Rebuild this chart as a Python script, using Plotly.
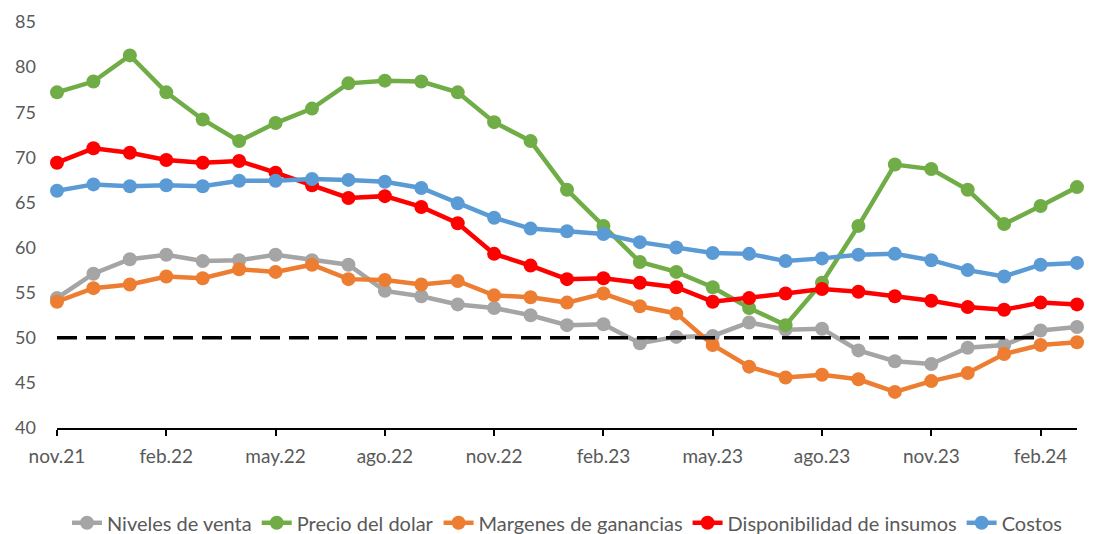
import plotly.graph_objects as go

meses = [
    "nov.21", "dic.21", "ene.22", "feb.22", "mar.22", "abr.22", "may.22", "jun.22",
    "jul.22", "ago.22", "sep.22", "oct.22", "nov.22", "dic.22", "ene.23", "feb.23",
    "mar.23", "abr.23", "may.23", "jun.23", "jul.23", "ago.23", "sep.23", "oct.23",
    "nov.23", "dic.23", "ene.24", "feb.24", "mar.24",
]

niveles_venta = [54.4, 57.1, 58.7, 59.2, 58.5, 58.6, 59.2, 58.6, 58.1, 55.2, 54.6, 53.7,
                 53.3, 52.5, 51.4, 51.5, 49.4, 50.1, 50.2, 51.7, 50.9, 51.0, 48.6, 47.4,
                 47.1, 48.9, 49.2, 50.8, 51.2]
precio_dolar = [77.2, 78.4, 81.3, 77.2, 74.2, 71.8, 73.8, 75.4, 78.2, 78.5, 78.4, 77.2,
                73.9, 71.8, 66.4, 62.4, 58.4, 57.3, 55.6, 53.3, 51.4, 56.1, 62.4, 69.2,
                68.7, 66.4, 62.6, 64.6, 66.7]
margenes = [54.0, 55.5, 55.9, 56.8, 56.6, 57.6, 57.3, 58.1, 56.5, 56.4, 55.9, 56.3,
            54.7, 54.5, 53.9, 54.9, 53.5, 52.7, 49.2, 46.8, 45.6, 45.9, 45.4, 44.0,
            45.2, 46.1, 48.2, 49.2, 49.5]
disponibilidad = [69.4, 71.0, 70.5, 69.7, 69.4, 69.6, 68.3, 66.9, 65.5, 65.7, 64.5, 62.7,
                  59.3, 58.0, 56.5, 56.6, 56.1, 55.6, 54.0, 54.4, 54.9, 55.4, 55.1, 54.6,
                  54.1, 53.4, 53.1, 53.9, 53.7]
costos = [66.3, 67.0, 66.8, 66.9, 66.8, 67.4, 67.4, 67.6, 67.5, 67.3, 66.6, 64.9,
          63.3, 62.1, 61.8, 61.5, 60.6, 60.0, 59.4, 59.3, 58.5, 58.8, 59.2, 59.3,
          58.6, 57.5, 56.8, 58.1, 58.3]
umbral = [50] * 28

series = [
    ("Niveles de venta", niveles_venta, "#A5A5A5"),
    ("Precio del dolar", precio_dolar, "#70AD47"),
    ("Margenes de ganancias", margenes, "#ED7D31"),
    ("Disponibilidad de insumos", disponibilidad, "#FF0000"),
    ("Costos", costos, "#5B9BD5"),
]

fig = go.Figure()

for nombre, valores, color in series:
    fig.add_trace(go.Scatter(
        x=meses, y=valores, name=nombre, mode="lines+markers",
        line=dict(color=color, width=4.5),
        marker=dict(color=color, size=14),
        cliponaxis=False,
    ))

fig.add_trace(go.Scatter(
    x=meses[:28], y=umbral, mode="lines", showlegend=False, hoverinfo="skip",
    line=dict(color="black", width=3.5, dash="20px,9px"),
    cliponaxis=False,
))

# page body adds an 8px offset; legend placed against the container so it
# does not push the plot margins
fig.update_layout(
    width=1095, height=534,
    margin=dict(l=49, r=26, t=14, b=114),
    plot_bgcolor="white", paper_bgcolor="white",
    font=dict(family="Lato", size=18, color="#595959"),
    legend=dict(
        orientation="h", x=0.5, xanchor="center",
        yref="container", y=0.036, yanchor="middle",
        font=dict(size=20, color="#595959"), itemwidth=30,
    ),
)

fig.update_xaxes(
    type="category", range=[0, 28], automargin=False,
    tickmode="array", tickvals=meses[::3], ticktext=meses[::3],
    showline=True, linecolor="black", linewidth=2,
    ticks="outside", ticklen=6, tickwidth=2, tickcolor="black",
    showgrid=False, zeroline=False, ticklabelstandoff=4,
    tickfont=dict(size=19, color="#595959"),
)

fig.update_yaxes(
    range=[40, 85], dtick=5, automargin=False,
    showline=False, showgrid=False, zeroline=False,
    ticklabelstandoff=20,
    tickfont=dict(size=18, color="#595959"),
)

fig.write_html("out.html")
